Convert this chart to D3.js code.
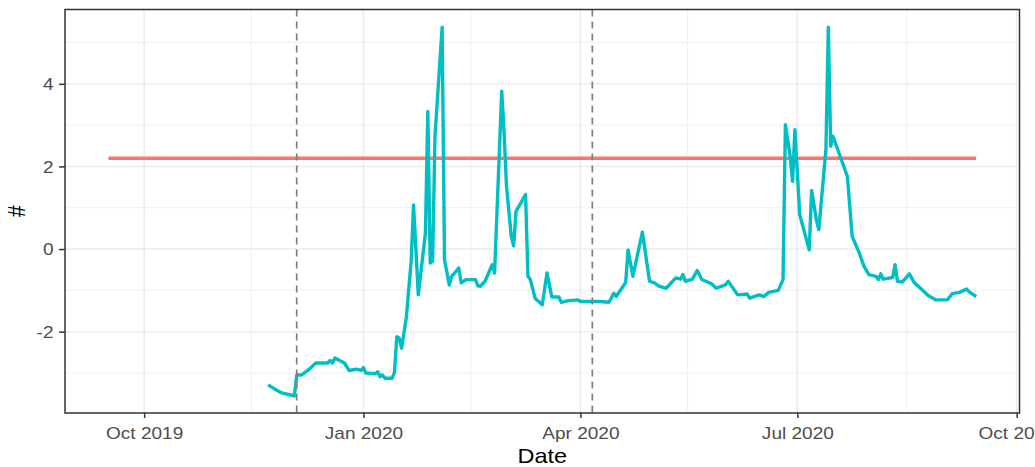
<!DOCTYPE html>
<html>
<head>
<meta charset="utf-8">
<script src="https://cdnjs.cloudflare.com/ajax/libs/d3/7.8.5/d3.min.js"></script>
<style>
body { margin: 0; background: #fff; }
text { font-family: "Liberation Sans", Arial, sans-serif; }
</style>
</head>
<body>
<div id="chart"></div>
<script>
// series
var dates = [
  "2019-11-22","2019-11-26","2019-11-28","2019-12-02","2019-12-03","2019-12-04","2019-12-06","2019-12-09",
  "2019-12-12","2019-12-15","2019-12-17","2019-12-18","2019-12-19","2019-12-20","2019-12-22","2019-12-24",
  "2019-12-26","2019-12-29","2019-12-31","2020-01-01","2020-01-02","2020-01-06","2020-01-07","2020-01-08",
  "2020-01-09","2020-01-10","2020-01-13","2020-01-14","2020-01-15","2020-01-16","2020-01-17","2020-01-19",
  "2020-01-21","2020-01-22","2020-01-24","2020-01-27","2020-01-28","2020-01-29","2020-01-30","2020-01-31",
  "2020-02-03","2020-02-04","2020-02-06","2020-02-07","2020-02-10","2020-02-11","2020-02-13","2020-02-17",
  "2020-02-18","2020-02-19","2020-02-21","2020-02-24","2020-02-25","2020-02-28","2020-02-29","2020-03-01",
  "2020-03-03","2020-03-04","2020-03-05","2020-03-09","2020-03-10","2020-03-11","2020-03-13","2020-03-16",
  "2020-03-18","2020-03-20","2020-03-23","2020-03-24","2020-03-27","2020-03-31","2020-04-01","2020-04-09",
  "2020-04-13","2020-04-15","2020-04-16","2020-04-20","2020-04-21","2020-04-23","2020-04-27","2020-04-30",
  "2020-05-02","2020-05-04","2020-05-07","2020-05-11","2020-05-13","2020-05-14","2020-05-15","2020-05-18",
  "2020-05-20","2020-05-22","2020-05-26","2020-05-28","2020-06-01","2020-06-02","2020-06-06","2020-06-10",
  "2020-06-11","2020-06-15","2020-06-17","2020-06-19","2020-06-23","2020-06-25","2020-06-26","2020-06-28",
  "2020-06-29","2020-06-30","2020-07-02","2020-07-06","2020-07-07","2020-07-09","2020-07-10","2020-07-13",
  "2020-07-14","2020-07-15","2020-07-16","2020-07-19","2020-07-22","2020-07-24","2020-07-27","2020-07-29",
  "2020-07-31","2020-08-03","2020-08-04","2020-08-05","2020-08-06","2020-08-10","2020-08-11","2020-08-12",
  "2020-08-14","2020-08-17","2020-08-19","2020-08-22","2020-08-25","2020-08-28","2020-09-02","2020-09-04",
  "2020-09-07","2020-09-10","2020-09-11","2020-09-14"
];
var values = [
  -3.29,-3.43,-3.49,-3.54,-3.56,-3.05,-3.05,-2.92,
  -2.76,-2.76,-2.76,-2.70,-2.76,-2.64,-2.70,-2.76,
  -2.94,-2.91,-2.94,-2.87,-3.00,-3.02,-2.97,-3.09,
  -3.05,-3.13,-3.13,-2.99,-2.12,-2.16,-2.40,-1.65,
  -0.30,1.07,-1.11,0.39,3.33,-0.34,-0.30,2.73,
  5.37,-0.26,-0.87,-0.66,-0.46,-0.82,-0.74,-0.74,
  -0.89,-0.90,-0.78,-0.38,-0.58,3.82,2.81,1.52,
  0.31,0.08,0.91,1.32,-0.66,-0.74,-1.19,-1.35,
  -0.58,-1.16,-1.16,-1.29,-1.25,-1.23,-1.27,-1.27,
  -1.29,-1.07,-1.15,-0.81,-0.02,-0.66,0.41,-0.78,
  -0.82,-0.90,-0.95,-0.70,-0.73,-0.62,-0.78,-0.73,
  -0.52,-0.74,-0.84,-0.95,-0.86,-0.78,-1.11,-1.09,
  -1.19,-1.11,-1.15,-1.05,-1.00,-0.74,3.01,2.24,
  1.64,2.89,0.83,-0.02,1.42,0.71,0.47,2.41,
  5.37,2.49,2.73,2.24,1.76,0.31,-0.10,-0.42,
  -0.62,-0.66,-0.74,-0.60,-0.73,-0.69,-0.38,-0.78,
  -0.80,-0.60,-0.81,-0.97,-1.13,-1.23,-1.23,-1.08,
  -1.05,-0.97,-1.03,-1.15
];
var thresholdDates = ["2019-09-16", "2020-09-14"];
var thresholdValue = 2.2;
var markerDates = ["2019-12-04", "2020-04-06"];
var xTickDates = ["2019-10-01", "2020-01-01", "2020-04-01", "2020-07-01", "2020-10-01"];
var xMinorDates = ["2019-11-15", "2020-02-15", "2020-05-16", "2020-08-16"];
var yTicks = [-2, 0, 2, 4];
var yMinor = [-3, -1, 1, 3, 5];
var yLimits = [-3.97, 5.80];

var width = 1035,
    height = 467;
var margin = {top: 9.5, right: 15.5, bottom: 54, left: 65};
var stretch = 1.12;   // text looks a bit wide in the picture

var parse = d3.utcParse("%Y-%m-%d");
var series = dates.map(function(d, i) { return {date: parse(d), value: values[i]}; });
var thr = thresholdDates.map(function(d) { return {date: parse(d), value: thresholdValue}; });

var svg = d3.select("#chart").append("svg")
    .attr("width", width)
    .attr("height", height);

// x domain = data range + 5% each side (like ggplot)
var t0 = parse(thresholdDates[0]).getTime(),
    t1 = parse(thresholdDates[1]).getTime(),
    pad = (t1 - t0) * 0.05;
var x = d3.scaleUtc()
    .domain([new Date(t0 - pad), new Date(t1 + pad)])
    .range([margin.left, width - margin.right]);
var y = d3.scaleLinear()
    .domain(yLimits)
    .range([height - margin.bottom, margin.top]);

var pw = width - margin.right - margin.left,
    pTop = margin.top, pBottom = height - margin.bottom;

// grid
var grid = svg.append("g");
grid.selectAll(".ymin").data(yMinor).enter().append("line")
    .attr("x1", margin.left).attr("x2", width - margin.right)
    .attr("y1", function(d) { return y(d); }).attr("y2", function(d) { return y(d); })
    .attr("stroke", "#EBEBEB").attr("stroke-width", 0.8);
grid.selectAll(".xmin").data(xMinorDates).enter().append("line")
    .attr("x1", function(d) { return x(parse(d)); }).attr("x2", function(d) { return x(parse(d)); })
    .attr("y1", pTop).attr("y2", pBottom)
    .attr("stroke", "#EBEBEB").attr("stroke-width", 0.8);
grid.selectAll(".ymaj").data(yTicks).enter().append("line")
    .attr("x1", margin.left).attr("x2", width - margin.right)
    .attr("y1", function(d) { return y(d); }).attr("y2", function(d) { return y(d); })
    .attr("stroke", "#EBEBEB").attr("stroke-width", 1.5);
grid.selectAll(".xmaj").data(xTickDates).enter().append("line")
    .attr("x1", function(d) { return x(parse(d)); }).attr("x2", function(d) { return x(parse(d)); })
    .attr("y1", pTop).attr("y2", pBottom)
    .attr("stroke", "#EBEBEB").attr("stroke-width", 1.5);

var line = d3.line()
    .x(function(d) { return x(d.date); })
    .y(function(d) { return y(d.value); });

// threshold line
svg.append("path")
    .datum(thr)
    .attr("d", line)
    .attr("fill", "none")
    .attr("stroke", "#F8766D")
    .attr("stroke-width", 3.4);

// series
svg.append("path")
    .datum(series)
    .attr("d", line)
    .attr("fill", "none")
    .attr("stroke", "#00BFC4")
    .attr("stroke-width", 3.4)
    .attr("stroke-linejoin", "round");

// dashed markers
svg.selectAll(".marker").data(markerDates).enter().append("line")
    .attr("x1", function(d) { return x(parse(d)); }).attr("x2", function(d) { return x(parse(d)); })
    .attr("y1", pTop).attr("y2", pBottom)
    .attr("stroke", "#7F7F7F")
    .attr("stroke-width", 1.7)
    .attr("stroke-dasharray", "7,5");

// panel border
svg.append("rect")
    .attr("x", margin.left).attr("y", pTop)
    .attr("width", pw).attr("height", pBottom - pTop)
    .attr("fill", "none")
    .attr("stroke", "#333333")
    .attr("stroke-width", 1.5);

// axes
var xAxis = svg.append("g")
    .attr("transform", "translate(0," + pBottom + ")")
    .call(d3.axisBottom(x)
        .tickValues(xTickDates.map(parse))
        .tickFormat(d3.utcFormat("%b %Y"))
        .tickSize(5).tickPadding(0));
xAxis.select(".domain").remove();
xAxis.selectAll(".tick line").attr("stroke", "#333333").attr("stroke-width", 1.5);
xAxis.selectAll(".tick text")
    .attr("y", 26).attr("dy", 0)
    .attr("transform", "scale(" + stretch + ",1)")
    .attr("fill", "#4D4D4D")
    .style("font-size", "17px");

var yAxis = svg.append("g")
    .attr("transform", "translate(" + margin.left + ",0)")
    .call(d3.axisLeft(y).tickValues(yTicks)
        .tickFormat(function(d) { return String(d); })
        .tickSize(6).tickPadding(0));
yAxis.select(".domain").remove();
yAxis.selectAll(".tick line").attr("stroke", "#333333").attr("stroke-width", 1.5);
yAxis.selectAll(".tick text")
    .attr("x", -11.5 / stretch).attr("dy", "0.35em")
    .attr("transform", "scale(" + stretch + ",1)")
    .attr("fill", "#4D4D4D")
    .style("font-size", "17px");

// axis titles
svg.append("text")
    .attr("transform", "translate(" + (margin.left + pw / 2) + ",463) scale(" + stretch + ",1)")
    .attr("text-anchor", "middle")
    .style("font-size", "21px")
    .attr("fill", "#000")
    .text("Date");

svg.append("text")
    .attr("transform", "translate(25," + ((pTop + pBottom) / 2) + ") rotate(-90) scale(1," + stretch + ")")
    .attr("text-anchor", "middle")
    .style("font-size", "21px")
    .attr("fill", "#000")
    .text("#");
</script>
</body>
</html>
